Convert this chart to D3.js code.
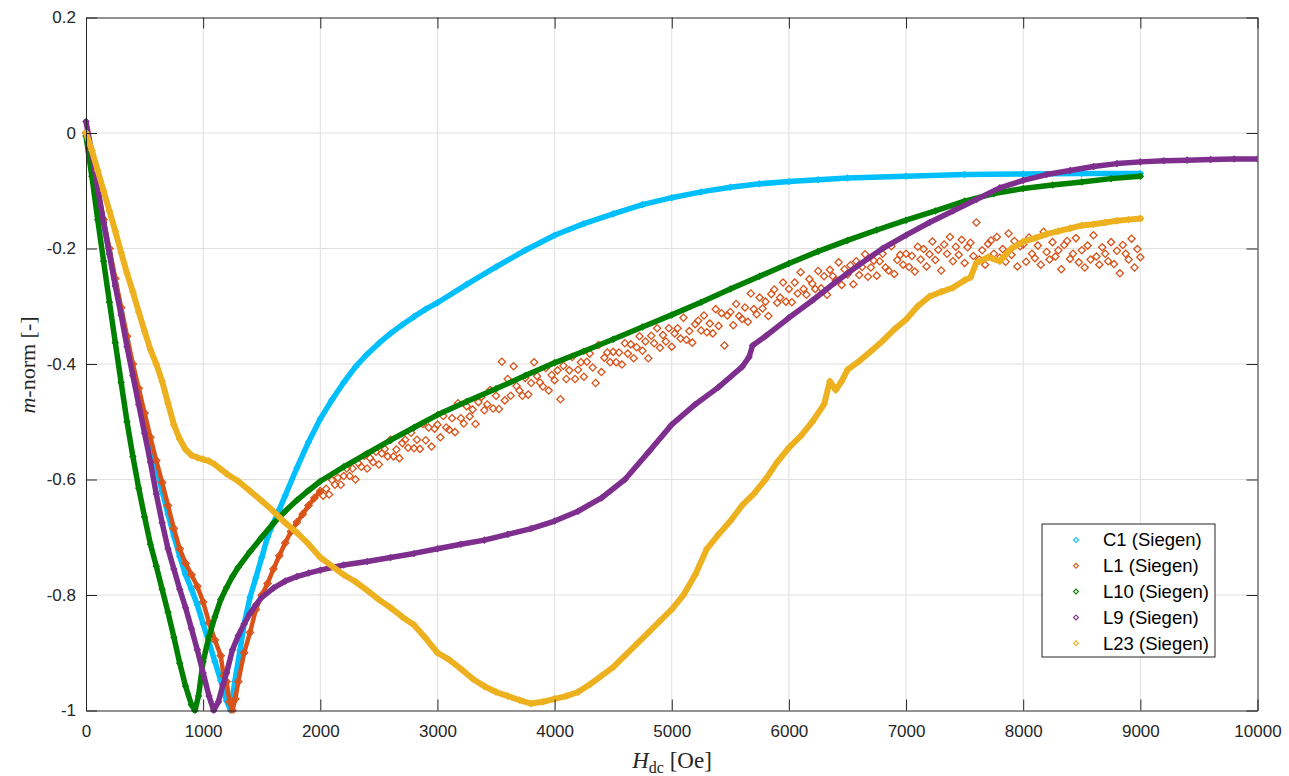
<!DOCTYPE html>
<html><head><meta charset="utf-8">
<script src="https://cdn.jsdelivr.net/npm/d3@7"></script>
<style>body{margin:0;background:#fff} svg{display:block}</style>
</head><body>
<svg id="chart" width="1289" height="776"></svg>
<script>
// ---- tick values / labels ----
const xTicks = [0,1000,2000,3000,4000,5000,6000,7000,8000,9000,10000];
const xTickLabels = ["0","1000","2000","3000","4000","5000","6000","7000","8000","9000","10000"];
const yTicks = [0.2,0,-0.2,-0.4,-0.6,-0.8,-1];
const yTickLabels = ["0.2","0","-0.2","-0.4","-0.6","-0.8","-1"];

// ---- series ----
const seriesNames = ["C1 (Siegen)","L1 (Siegen)","L10 (Siegen)","L9 (Siegen)","L23 (Siegen)"];

const c1X = [0,50,100,150,200,250,300,350,400,450,500,550,600,650,700,750,800,850,900,950,1000,1050,1100,1150,1200,1235,1270,1314,1350,1400,1450,1500,1550,1600,1650,1700,1800,1900,2000,2100,2200,2300,2400,2500,2600,2700,2800,2900,3000,3250,3500,3750,4000,4250,4500,4750,5000,5250,5500,5750,6000,6250,6500,7000,7500,8000,8500,9000];
const c1Y = [0,-0.05,-0.102,-0.155,-0.207,-0.26,-0.31,-0.36,-0.41,-0.45,-0.495,-0.537,-0.578,-0.62,-0.66,-0.698,-0.733,-0.765,-0.79,-0.817,-0.85,-0.882,-0.915,-0.948,-0.983,-1.0,-0.95,-0.896,-0.85,-0.804,-0.77,-0.735,-0.7,-0.675,-0.652,-0.628,-0.58,-0.535,-0.495,-0.462,-0.432,-0.405,-0.383,-0.364,-0.347,-0.332,-0.318,-0.305,-0.294,-0.262,-0.232,-0.203,-0.177,-0.157,-0.14,-0.124,-0.112,-0.102,-0.094,-0.088,-0.084,-0.081,-0.078,-0.075,-0.072,-0.071,-0.07,-0.07];

const l1X = [0,50,100,150,200,250,300,350,400,450,500,550,600,650,700,750,800,850,900,950,1000,1050,1100,1150,1175,1200,1225,1250,1275,1300,1350,1400,1450,1500,1550,1600,1650,1700,1750,1800,1850,1900,1950,
2000,2025,2050,2075,2100,2125,2150,2175,2200,2225,
2250,2275,2300,2325,2350,2375,2400,2425,2450,2475,
2500,2525,2550,2575,2600,2625,2650,2675,2700,2725,
2750,2775,2800,2825,2850,2875,2900,2925,2950,2975,
3000,3025,3050,3075,3100,3125,3150,3175,3200,3225,
3250,3275,3300,3325,3350,3375,3400,3425,3450,3475,
3500,3525,3550,3575,3600,3625,3650,3675,3700,3725,
3750,3775,3800,3825,3850,3875,3900,3925,3950,3975,
4000,4025,4050,4075,4100,4125,4150,4175,4200,4225,
4250,4275,4300,4325,4350,4375,4400,4425,4450,4475,
4500,4525,4550,4575,4600,4625,4650,4675,4700,4725,
4750,4775,4800,4825,4850,4875,4900,4925,4950,4975,
5000,5025,5050,5075,5100,5125,5150,5175,5200,5225,
5250,5275,5300,5325,5350,5375,5400,5425,5450,5475,
5500,5525,5550,5575,5600,5625,5650,5675,5700,5725,
5750,5775,5800,5825,5850,5875,5900,5925,5950,5975,
6000,6025,6050,6075,6100,6125,6150,6175,6200,6225,
6250,6275,6300,6325,6350,6375,6400,6425,6450,6475,
6500,6525,6550,6575,6600,6625,6650,6675,6700,6725,
6750,6775,6800,6825,6850,6875,6900,6925,6950,6975,
7000,7025,7050,7075,7100,7125,7150,7175,7200,7225,
7250,7275,7300,7325,7350,7375,7400,7425,7450,7475,
7500,7525,7550,7575,7600,7625,7650,7675,7700,7725,
7750,7775,7800,7825,7850,7875,7900,7925,7950,7975,
8000,8025,8050,8075,8100,8125,8150,8175,8200,8225,
8250,8275,8300,8325,8350,8375,8400,8425,8450,8475,
8500,8525,8550,8575,8600,8625,8650,8675,8700,8725,
8750,8775,8800,8825,8850,8875,8900,8925,8950,8975,9000];
const l1Y = [0,-0.045,-0.097,-0.15,-0.2,-0.252,-0.302,-0.352,-0.4,-0.442,-0.485,-0.527,-0.567,-0.605,-0.645,-0.685,-0.72,-0.745,-0.765,-0.785,-0.812,-0.848,-0.878,-0.905,-0.94,-0.95,-0.985,-1.0,-0.98,-0.95,-0.9,-0.865,-0.825,-0.8,-0.78,-0.755,-0.732,-0.71,-0.69,-0.674,-0.66,-0.645,-0.632,
-0.620,-0.628,-0.616,-0.626,-0.601,-0.609,-0.597,-0.609,-0.594,-0.581,
-0.594,-0.581,-0.600,-0.572,-0.578,-0.559,-0.581,-0.563,-0.570,-0.552,
-0.574,-0.555,-0.547,-0.560,-0.531,-0.560,-0.548,-0.563,-0.537,-0.531,
-0.545,-0.519,-0.546,-0.531,-0.547,-0.504,-0.532,-0.510,-0.543,-0.512,
-0.505,-0.527,-0.490,-0.510,-0.514,-0.494,-0.518,-0.468,-0.494,-0.503,
-0.473,-0.491,-0.479,-0.504,-0.466,-0.457,-0.480,-0.470,-0.445,-0.477,
-0.455,-0.478,-0.396,-0.463,-0.426,-0.455,-0.404,-0.438,-0.446,-0.455,
-0.424,-0.453,-0.433,-0.397,-0.421,-0.432,-0.439,-0.407,-0.446,-0.419,
-0.428,-0.411,-0.461,-0.403,-0.426,-0.411,-0.388,-0.426,-0.410,-0.397,
-0.422,-0.396,-0.382,-0.406,-0.433,-0.367,-0.414,-0.389,-0.380,-0.397,
-0.379,-0.397,-0.380,-0.401,-0.364,-0.382,-0.366,-0.390,-0.371,-0.352,
-0.377,-0.361,-0.390,-0.351,-0.364,-0.338,-0.372,-0.350,-0.361,-0.338,
-0.370,-0.347,-0.338,-0.356,-0.320,-0.358,-0.343,-0.363,-0.331,-0.325,
-0.342,-0.316,-0.345,-0.330,-0.347,-0.305,-0.334,-0.312,-0.368,-0.316,
-0.310,-0.333,-0.296,-0.317,-0.322,-0.302,-0.327,-0.278,-0.305,-0.314,
-0.285,-0.304,-0.292,-0.317,-0.279,-0.271,-0.294,-0.285,-0.259,-0.292,
-0.270,-0.293,-0.259,-0.278,-0.241,-0.270,-0.280,-0.253,-0.261,-0.270,
-0.239,-0.269,-0.248,-0.280,-0.237,-0.248,-0.255,-0.224,-0.263,-0.236,
-0.245,-0.229,-0.262,-0.222,-0.246,-0.232,-0.210,-0.249,-0.233,-0.221,
-0.247,-0.222,-0.209,-0.233,-0.238,-0.196,-0.244,-0.220,-0.211,-0.228,
-0.209,-0.232,-0.213,-0.240,-0.197,-0.219,-0.201,-0.231,-0.210,-0.188,
-0.220,-0.202,-0.238,-0.193,-0.209,-0.180,-0.222,-0.197,-0.211,-0.185,
-0.225,-0.198,-0.190,-0.213,-0.155,-0.219,-0.203,-0.228,-0.192,-0.186,
-0.209,-0.180,-0.216,-0.201,-0.223,-0.174,-0.211,-0.187,-0.231,-0.196,
-0.193,-0.223,-0.181,-0.209,-0.217,-0.195,-0.228,-0.171,-0.206,-0.219,
-0.189,-0.214,-0.203,-0.236,-0.194,-0.187,-0.218,-0.209,-0.182,-0.224,
-0.203,-0.233,-0.195,-0.219,-0.177,-0.214,-0.228,-0.198,-0.209,-0.222,
-0.189,-0.227,-0.204,-0.243,-0.194,-0.209,-0.219,-0.183,-0.233,-0.201,-0.215];

const l10X = [0,50,100,150,200,250,300,350,400,450,500,550,600,650,700,750,800,850,900,930,960,1000,1050,1100,1150,1200,1250,1300,1400,1500,1600,1700,1800,1900,2000,2200,2400,2600,2800,3000,3250,3500,3750,4000,4250,4500,4750,5000,5250,5500,5750,6000,6250,6500,6750,7000,7250,7500,7750,8000,8250,8500,8750,9000];
const l10Y = [-0.005,-0.075,-0.15,-0.222,-0.293,-0.363,-0.432,-0.5,-0.56,-0.615,-0.665,-0.712,-0.75,-0.79,-0.83,-0.873,-0.918,-0.958,-0.99,-1.0,-0.975,-0.915,-0.872,-0.838,-0.808,-0.787,-0.768,-0.752,-0.725,-0.7,-0.676,-0.655,-0.636,-0.619,-0.603,-0.578,-0.555,-0.532,-0.51,-0.488,-0.465,-0.443,-0.42,-0.398,-0.378,-0.357,-0.336,-0.315,-0.293,-0.27,-0.248,-0.226,-0.205,-0.186,-0.168,-0.151,-0.135,-0.118,-0.105,-0.096,-0.09,-0.085,-0.079,-0.075];

const l9X = [0,50,100,150,200,250,300,350,400,450,500,550,600,650,700,750,800,850,900,950,1000,1050,1090,1130,1170,1200,1250,1300,1350,1400,1450,1500,1600,1700,1800,1900,2000,2200,2400,2600,2800,3000,3200,3400,3600,3800,4000,4200,4400,4600,4800,5000,5200,5400,5600,5660,5690,5800,6000,6200,6400,6600,6800,7000,7200,7400,7600,7800,8000,8200,8400,8600,8800,9000,9200,9400,9600,9800,10000];
const l9Y = [0.02,-0.035,-0.095,-0.155,-0.21,-0.265,-0.315,-0.37,-0.42,-0.47,-0.52,-0.57,-0.625,-0.675,-0.72,-0.755,-0.79,-0.822,-0.858,-0.895,-0.935,-0.975,-1.0,-0.985,-0.955,-0.935,-0.895,-0.87,-0.85,-0.832,-0.817,-0.804,-0.788,-0.776,-0.768,-0.762,-0.757,-0.748,-0.742,-0.735,-0.728,-0.72,-0.712,-0.705,-0.695,-0.685,-0.672,-0.655,-0.632,-0.6,-0.553,-0.505,-0.47,-0.44,-0.405,-0.388,-0.368,-0.352,-0.32,-0.29,-0.258,-0.228,-0.2,-0.177,-0.155,-0.135,-0.115,-0.095,-0.082,-0.072,-0.065,-0.058,-0.053,-0.05,-0.048,-0.047,-0.046,-0.045,-0.045];

const l23X = [0,50,100,150,200,250,300,350,400,450,500,550,600,650,700,750,800,850,900,950,1000,1050,1100,1150,1200,1300,1400,1500,1600,1700,1800,1900,2000,2100,2200,2300,2400,2500,2600,2700,2800,2900,3000,3100,3200,3300,3400,3500,3600,3700,3800,3900,4000,4100,4200,4300,4400,4500,4600,4700,4800,4900,5000,5100,5200,5300,5400,5500,5600,5700,5800,5900,6000,6100,6200,6300,6350,6400,6450,6500,6600,6700,6800,6900,7000,7100,7200,7300,7400,7500,7550,7600,7700,7800,7900,8000,8100,8200,8300,8400,8500,8600,8700,8800,8900,9000];
const l23Y = [0,-0.03,-0.065,-0.1,-0.135,-0.17,-0.207,-0.243,-0.275,-0.31,-0.343,-0.375,-0.4,-0.43,-0.468,-0.505,-0.53,-0.548,-0.558,-0.562,-0.565,-0.568,-0.574,-0.582,-0.59,-0.603,-0.62,-0.637,-0.655,-0.675,-0.692,-0.712,-0.735,-0.75,-0.765,-0.777,-0.792,-0.808,-0.822,-0.838,-0.852,-0.875,-0.9,-0.912,-0.928,-0.945,-0.958,-0.968,-0.975,-0.982,-0.988,-0.985,-0.98,-0.975,-0.968,-0.955,-0.94,-0.925,-0.905,-0.885,-0.865,-0.845,-0.825,-0.8,-0.765,-0.72,-0.695,-0.672,-0.645,-0.625,-0.6,-0.57,-0.545,-0.525,-0.5,-0.47,-0.43,-0.445,-0.43,-0.41,-0.395,-0.378,-0.36,-0.34,-0.323,-0.3,-0.283,-0.275,-0.268,-0.255,-0.25,-0.225,-0.215,-0.222,-0.2,-0.188,-0.182,-0.175,-0.17,-0.165,-0.16,-0.158,-0.155,-0.152,-0.15,-0.148];

const seriesColors = ["#00BFFF","#D95319","#008000","#7E2F8E","#EDB120"];

// ---- layout ----
const M = {left:86, right:1257.5, top:17.5, bottom:710.5};
const svg = d3.select("#chart");
const x = d3.scaleLinear().domain([0,10000]).range([M.left, M.right]);
const y = d3.scaleLinear().domain([-1,0.2]).range([M.bottom, M.top]);
const axisColor = "#262626";
const font = "'Liberation Sans', Arial, Helvetica, sans-serif";

// grid
const grid = svg.append("g");
grid.selectAll("line.gx").data(xTicks.slice(1,-1)).enter().append("line")
  .attr("x1", d=>x(d)).attr("x2", d=>x(d)).attr("y1", M.top).attr("y2", M.bottom)
  .attr("stroke","#dfdfdf").attr("stroke-width",1);
grid.selectAll("line.gy").data(yTicks.slice(1,-1)).enter().append("line")
  .attr("y1", d=>y(d)).attr("y2", d=>y(d)).attr("x1", M.left).attr("x2", M.right)
  .attr("stroke","#dfdfdf").attr("stroke-width",1);

// clip
svg.append("defs").append("clipPath").attr("id","clip").append("rect")
  .attr("x",M.left-4).attr("y",M.top).attr("width",M.right-M.left+4).attr("height",M.bottom-M.top+3);

const series = [
  {name:seriesNames[0], xs:c1X, ys:c1Y, color:seriesColors[0], lineMax:10000, lw:5.5, ms:18, mw:1.1},
  {name:seriesNames[1], xs:l1X, ys:l1Y, color:seriesColors[1], lineMax:2000, lw:4.5, ms:26, mw:1.3},
  {name:seriesNames[2], xs:l10X, ys:l10Y, color:seriesColors[2], lineMax:10000, lw:5.5, ms:18, mw:1.1},
  {name:seriesNames[3], xs:l9X, ys:l9Y, color:seriesColors[3], lineMax:10000, lw:5.5, ms:18, mw:1.1},
  {name:seriesNames[4], xs:l23X, ys:l23Y, color:seriesColors[4], lineMax:10000, lw:6, ms:20, mw:1.1}
];

const plot = svg.append("g").attr("clip-path","url(#clip)");
const line = d3.line().x(d=>x(d[0])).y(d=>y(d[1])).curve(d3.curveLinear);

series.forEach(s => {
  const pts = s.xs.map((v,i)=>[v, s.ys[i]]);
  const g = plot.append("g");
  const marker = d3.symbol().type(d3.symbolSquare).size(s.ms);
  g.append("path").datum(pts.filter(p=>p[0]<=s.lineMax))
    .attr("d", line).attr("fill","none").attr("stroke", s.color)
    .attr("stroke-width", s.lw).attr("stroke-linejoin","round").attr("stroke-linecap","round");
  g.selectAll("path.m").data(pts).enter().append("path")
    .attr("class","m")
    .attr("d", marker)
    .attr("transform", d=>`translate(${x(d[0])},${y(d[1])}) rotate(45)`)
    .attr("fill","none").attr("stroke", s.color).attr("stroke-width", s.mw);
});

// axes
function styleAxis(g){
  g.select(".domain").attr("stroke", axisColor).attr("stroke-width",1);
  g.selectAll(".tick line").attr("stroke", axisColor).attr("stroke-width",1);
  g.selectAll(".tick text").attr("fill", axisColor).style("font-family", font).style("font-size","17px");
}
svg.append("g").attr("transform",`translate(0,${M.bottom})`)
  .call(d3.axisBottom(x).tickValues(xTicks).tickFormat((d,i)=>xTickLabels[i]).tickSize(-11).tickSizeOuter(0).tickPadding(14))
  .call(styleAxis);
svg.append("g").attr("transform",`translate(${M.left},0)`)
  .call(d3.axisLeft(y).tickValues(yTicks).tickFormat((d,i)=>yTickLabels[i]).tickSize(-11).tickSizeOuter(0).tickPadding(10))
  .call(styleAxis);
svg.append("g").attr("transform",`translate(0,${M.top})`)
  .call(d3.axisTop(x).tickValues(xTicks).tickFormat("").tickSize(-11).tickSizeOuter(0))
  .call(styleAxis);
svg.append("g").attr("transform",`translate(${M.right},0)`)
  .call(d3.axisRight(y).tickValues(yTicks).tickFormat("").tickSize(-11).tickSizeOuter(0))
  .call(styleAxis);

// axis labels
const serif = "'Liberation Serif', 'Times New Roman', serif";
const xl = svg.append("text").attr("x", 672).attr("y", 768).attr("text-anchor","middle")
  .style("font-family", serif).style("font-size","23px").attr("fill", axisColor);
xl.append("tspan").style("font-style","italic").text("H");
xl.append("tspan").attr("dy",5).style("font-size","16px").text("dc");
xl.append("tspan").attr("dy",-5).text(" [Oe]");

const yl = svg.append("text").attr("transform","translate(35,365) rotate(-90)").attr("text-anchor","middle")
  .style("font-family", serif).style("font-size","22px").attr("fill", axisColor);
yl.append("tspan").style("font-style","italic").text("m");
yl.append("tspan").text("-norm [-]");

// legend
const lg = svg.append("g");
lg.append("rect").attr("x",1042).attr("y",524).attr("width",173).attr("height",133)
  .attr("fill","#fff").attr("stroke", axisColor).attr("stroke-width",1);
series.forEach((s,i)=>{
  const cy = 540 + i*25.8;
  lg.append("path").attr("d", d3.symbol().type(d3.symbolSquare).size(12)())
    .attr("transform",`translate(1076,${cy}) rotate(45)`)
    .attr("fill","none").attr("stroke", s.color).attr("stroke-width",1.1);
  lg.append("text").attr("x",1103).attr("y",cy).attr("dy","0.35em")
    .style("font-family", font).style("font-size","18.5px").attr("fill","#000").text(s.name);
});
</script>
</body></html>
